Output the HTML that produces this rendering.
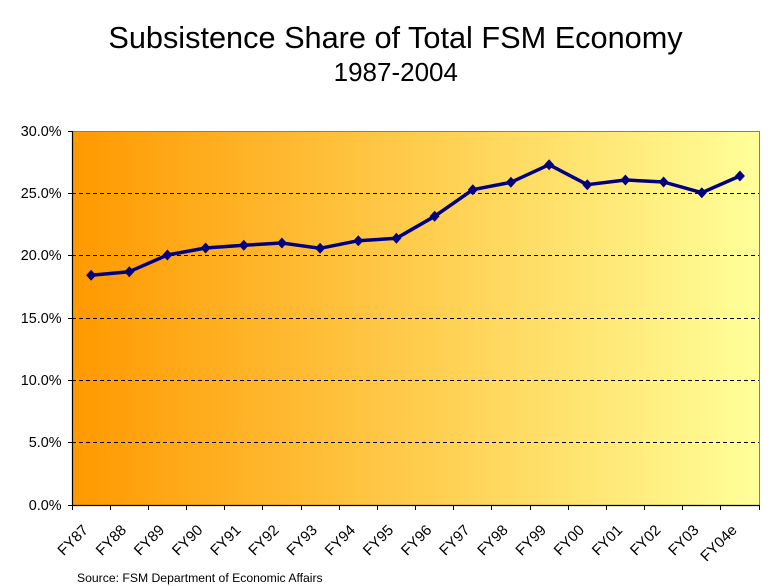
<!DOCTYPE html>
<html><head><meta charset="utf-8"><style>
html,body{margin:0;padding:0;background:#fff;}
svg{display:block;}
text{font-family:"Liberation Sans",Arial,sans-serif;fill:#000;}
</style></head><body>
<svg width="782" height="586" viewBox="0 0 782 586" xmlns="http://www.w3.org/2000/svg">
<defs>
<linearGradient id="g" x1="0" y1="0" x2="1" y2="0">
<stop offset="0" stop-color="#FF9900"/>
<stop offset="1" stop-color="#FFFF99"/>
</linearGradient>
</defs>
<rect x="0" y="0" width="782" height="586" fill="#fff"/>
<text x="395.5" y="48" font-size="30.7" text-anchor="middle">Subsistence Share of Total FSM Economy</text>
<text x="395.8" y="81" font-size="26" text-anchor="middle">1987-2004</text>

<rect x="72" y="131" width="687" height="374" fill="url(#g)"/>
<g stroke="#000" stroke-width="1" stroke-dasharray="4,3">
<line x1="72" y1="193.5" x2="759" y2="193.5"/>
<line x1="72" y1="255.5" x2="759" y2="255.5"/>
<line x1="72" y1="318.5" x2="759" y2="318.5"/>
<line x1="72" y1="380.5" x2="759" y2="380.5"/>
<line x1="72" y1="442.5" x2="759" y2="442.5"/>
</g>
<path d="M72 131.5H759.5V505" fill="none" stroke="#808080" stroke-width="1"/>
<path d="M72.5 131V505.5H759" fill="none" stroke="#000" stroke-width="1.2"/>
<g stroke="#000" stroke-width="1">
<line x1="68" y1="131.5" x2="72" y2="131.5"/>
<line x1="68" y1="193.5" x2="72" y2="193.5"/>
<line x1="68" y1="255.5" x2="72" y2="255.5"/>
<line x1="68" y1="318.5" x2="72" y2="318.5"/>
<line x1="68" y1="380.5" x2="72" y2="380.5"/>
<line x1="68" y1="442.5" x2="72" y2="442.5"/>
<line x1="68" y1="505.5" x2="72" y2="505.5"/>
<line x1="72.5" y1="505" x2="72.5" y2="510"/>
<line x1="110.5" y1="505" x2="110.5" y2="510"/>
<line x1="148.5" y1="505" x2="148.5" y2="510"/>
<line x1="186.5" y1="505" x2="186.5" y2="510"/>
<line x1="224.5" y1="505" x2="224.5" y2="510"/>
<line x1="262.5" y1="505" x2="262.5" y2="510"/>
<line x1="301.5" y1="505" x2="301.5" y2="510"/>
<line x1="339.5" y1="505" x2="339.5" y2="510"/>
<line x1="377.5" y1="505" x2="377.5" y2="510"/>
<line x1="415.5" y1="505" x2="415.5" y2="510"/>
<line x1="453.5" y1="505" x2="453.5" y2="510"/>
<line x1="491.5" y1="505" x2="491.5" y2="510"/>
<line x1="530.5" y1="505" x2="530.5" y2="510"/>
<line x1="568.5" y1="505" x2="568.5" y2="510"/>
<line x1="606.5" y1="505" x2="606.5" y2="510"/>
<line x1="644.5" y1="505" x2="644.5" y2="510"/>
<line x1="682.5" y1="505" x2="682.5" y2="510"/>
<line x1="720.5" y1="505" x2="720.5" y2="510"/>
<line x1="759.5" y1="505" x2="759.5" y2="510"/>
</g>
<g font-size="14.4" text-anchor="end">
<text x="61.5" y="136">30.0%</text>
<text x="61.5" y="198">25.0%</text>
<text x="61.5" y="260">20.0%</text>
<text x="61.5" y="323">15.0%</text>
<text x="61.5" y="385">10.0%</text>
<text x="61.5" y="447">5.0%</text>
<text x="61.5" y="510">0.0%</text>
</g>
<g font-size="15" text-anchor="end">
<text transform="translate(89,531) rotate(-45)">FY87</text>
<text transform="translate(127.2,531) rotate(-45)">FY88</text>
<text transform="translate(165.3,531) rotate(-45)">FY89</text>
<text transform="translate(203.5,531) rotate(-45)">FY90</text>
<text transform="translate(241.7,531) rotate(-45)">FY91</text>
<text transform="translate(279.8,531) rotate(-45)">FY92</text>
<text transform="translate(318,531) rotate(-45)">FY93</text>
<text transform="translate(356.2,531) rotate(-45)">FY94</text>
<text transform="translate(394.3,531) rotate(-45)">FY95</text>
<text transform="translate(432.5,531) rotate(-45)">FY96</text>
<text transform="translate(470.7,531) rotate(-45)">FY97</text>
<text transform="translate(508.8,531) rotate(-45)">FY98</text>
<text transform="translate(547,531) rotate(-45)">FY99</text>
<text transform="translate(585.2,531) rotate(-45)">FY00</text>
<text transform="translate(623.3,531) rotate(-45)">FY01</text>
<text transform="translate(661.5,531) rotate(-45)">FY02</text>
<text transform="translate(699.7,531) rotate(-45)">FY03</text>
<text transform="translate(737.8,531) rotate(-45)">FY04e</text>
</g>
<polyline fill="none" stroke="#000080" stroke-width="3.5" stroke-linejoin="round"
points="91.1,275.3 129.3,271.7 167.4,255 205.6,248 243.8,245.3 281.9,243 320.1,248.3 358.3,240.7 396.4,238.3 434.6,216.3 472.8,189.7 510.9,182.3 549.1,164.7 587.3,184.7 625.4,180 663.6,182 701.8,192.7 739.9,176"/>
<g fill="#000080">
<path d="M91.1 269.8l5 5.5-5 5.5-5-5.5z"/>
<path d="M129.3 266.2l5 5.5-5 5.5-5-5.5z"/>
<path d="M167.4 249.5l5 5.5-5 5.5-5-5.5z"/>
<path d="M205.6 242.5l5 5.5-5 5.5-5-5.5z"/>
<path d="M243.8 239.8l5 5.5-5 5.5-5-5.5z"/>
<path d="M281.9 237.5l5 5.5-5 5.5-5-5.5z"/>
<path d="M320.1 242.8l5 5.5-5 5.5-5-5.5z"/>
<path d="M358.3 235.2l5 5.5-5 5.5-5-5.5z"/>
<path d="M396.4 232.8l5 5.5-5 5.5-5-5.5z"/>
<path d="M434.6 210.8l5 5.5-5 5.5-5-5.5z"/>
<path d="M472.8 184.2l5 5.5-5 5.5-5-5.5z"/>
<path d="M510.9 176.8l5 5.5-5 5.5-5-5.5z"/>
<path d="M549.1 159.2l5 5.5-5 5.5-5-5.5z"/>
<path d="M587.3 179.2l5 5.5-5 5.5-5-5.5z"/>
<path d="M625.4 174.5l5 5.5-5 5.5-5-5.5z"/>
<path d="M663.6 176.5l5 5.5-5 5.5-5-5.5z"/>
<path d="M701.8 187.2l5 5.5-5 5.5-5-5.5z"/>
<path d="M739.9 170.5l5 5.5-5 5.5-5-5.5z"/>
</g>
<text x="77" y="582" font-size="12.2">Source: FSM Department of Economic Affairs</text>
</svg>
</body></html>
